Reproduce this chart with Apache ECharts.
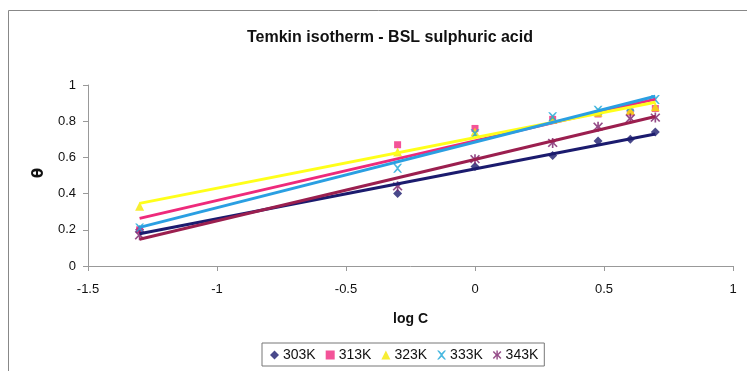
<!DOCTYPE html>
<html>
<head>
<meta charset="utf-8">
<script src="https://cdn.jsdelivr.net/npm/echarts@6/dist/echarts.min.js"></script>
<style>
  html, body { margin: 0; padding: 0; background: #fff; }
  #chart { width: 747px; height: 371px; }
</style>
</head>
<body>
<div id="chart"></div>
<script>
// log of concentration (C = 0.05, 0.5, 1, 2, 3, 4, 5)
var logC = [-1.3, -0.3, 0, 0.301, 0.477, 0.602, 0.699];

// surface coverage θ at each temperature
var theta303 = [0.20, 0.40, 0.55, 0.61, 0.69, 0.70, 0.74];
var theta313 = [0.20, 0.67, 0.76, 0.81, 0.84, 0.85, 0.87];
var theta323 = [0.33, 0.63, 0.74, 0.81, 0.85, 0.86, 0.88];
var theta333 = [0.21, 0.54, 0.73, 0.825, 0.86, 0.88, 0.92];
var theta343 = [0.17, 0.44, 0.59, 0.68, 0.77, 0.815, 0.82];

var seriesNames = ['303K', '313K', '323K', '333K', '343K'];
var xTicks = [-1.5, -1, -0.5, 0, 0.5, 1];
var yTicks = [0, 0.2, 0.4, 0.6, 0.8, 1];

var allTheta = [theta303, theta313, theta323, theta333, theta343];

var markerColors = ['#1b1b6e', '#f0287e', '#f5e800', '#1aa6d8', '#7a1f6a'];
var lineColors = ['#1b1b6e', '#ee2a7b', '#ffff1a', '#2a9fe2', '#9b1f4f'];

var crossPath = 'path://M0,0 L2,0 L5,3 L8,0 L10,0 L6,5 L10,10 L8,10 L5,7 L2,10 L0,10 L4,5 Z';
var starPath = 'path://M4.2,0 L5.8,0 L5.8,3.6 L8.6,0.6 L9.8,1.6 L6.6,5 L9.8,8.4 L8.6,9.4 L5.8,6.4 L5.8,10 L4.2,10 L4.2,6.4 L1.4,9.4 L0.2,8.4 L3.4,5 L0.2,1.6 L1.4,0.6 L4.2,3.6 Z';
var symbols = ['diamond', 'rect', 'triangle', crossPath, starPath];
var symbolSizes = [9, 7, 9, 9, 10];

// least-squares straight line through each temperature's points
function linearFit(xs, ys) {
  var n = xs.length, mx = 0, my = 0;
  for (var i = 0; i < n; i++) { mx += xs[i]; my += ys[i]; }
  mx /= n; my /= n;
  var sxy = 0, sxx = 0;
  for (var j = 0; j < n; j++) {
    sxy += (xs[j] - mx) * (ys[j] - my);
    sxx += (xs[j] - mx) * (xs[j] - mx);
  }
  var slope = sxy / sxx;
  var intercept = my - slope * mx;
  var x0 = Math.min.apply(null, xs), x1 = Math.max.apply(null, xs);
  return [[x0, intercept + slope * x0], [x1, intercept + slope * x1]];
}

var series = [];
allTheta.forEach(function (vals, k) {
  series.push({
    name: seriesNames[k] + ' fit',
    type: 'line',
    data: linearFit(logC, vals),
    showSymbol: false,
    symbol: 'none',
    silent: true,
    lineStyle: { color: lineColors[k], width: 3 },
    z: 3 + k * 0.1
  });
});
allTheta.forEach(function (vals, k) {
  series.push({
    name: seriesNames[k],
    type: 'scatter',
    data: logC.map(function (x, i) { return [x, vals[i]]; }),
    symbol: symbols[k],
    symbolSize: symbolSizes[k],
    itemStyle: { color: markerColors[k] },
    z: 2
  });
});

var chart = echarts.init(document.getElementById('chart'), null, { renderer: 'canvas' });
chart.setOption({
  animation: false,
  backgroundColor: '#ffffff',
  textStyle: { fontFamily: 'Liberation Sans, Arial, sans-serif' },
  title: {
    text: 'Temkin isotherm - BSL sulphuric acid',
    left: 385,
    textAlign: 'center',
    top: 25,
    textStyle: { fontSize: 16, fontWeight: 'bold', color: '#111', fontFamily: 'Liberation Sans, Arial, sans-serif' }
  },
  graphic: [{
    type: 'rect',
    shape: { x: 8.5, y: 10.5, width: 760, height: 380 },
    style: { fill: 'none', stroke: '#888', lineWidth: 1 },
    silent: true
  }, {
    type: 'text',
    left: 32,
    top: 168,
    rotation: Math.PI / 2,
    style: { text: 'θ', fontSize: 15, fontWeight: 'bold', fill: '#111', fontFamily: 'DejaVu Sans, sans-serif' }
  }],
  legend: {
    data: seriesNames.map(function (n, k) {
      return { name: n, icon: symbols[k] };
    }),
    left: 262,
    top: 343,
    itemWidth: 9,
    itemHeight: 9,
    itemGap: 10,
    padding: [5, 6, 4, 8],
    borderColor: '#777',
    borderWidth: 1,
    textStyle: { fontSize: 14, color: '#111', padding: [0, 0, 0, -1] }
  },
  grid: { left: 88, right: 14, top: 85, bottom: 105, containLabel: false },
  xAxis: {
    type: 'value',
    min: xTicks[0],
    max: xTicks[xTicks.length - 1],
    interval: 0.5,
    name: 'log C',
    nameLocation: 'middle',
    nameGap: 46,
    nameTextStyle: { fontSize: 14, fontWeight: 'bold', color: '#111' },
    axisLine: { lineStyle: { color: '#999' } },
    axisTick: { show: true, inside: false, length: 5, lineStyle: { color: '#999' } },
    axisLabel: { fontSize: 13, color: '#111', margin: 17 },
    splitLine: { show: false }
  },
  yAxis: {
    type: 'value',
    min: yTicks[0],
    max: yTicks[yTicks.length - 1],
    interval: 0.2,
    axisLine: { show: true, onZero: false, lineStyle: { color: '#999' } },
    axisTick: { show: true, length: 5, lineStyle: { color: '#999' } },
    axisLabel: { fontSize: 13, color: '#111', margin: 12 },
    splitLine: { show: false }
  },
  series: series
});
</script>
</body>
</html>
